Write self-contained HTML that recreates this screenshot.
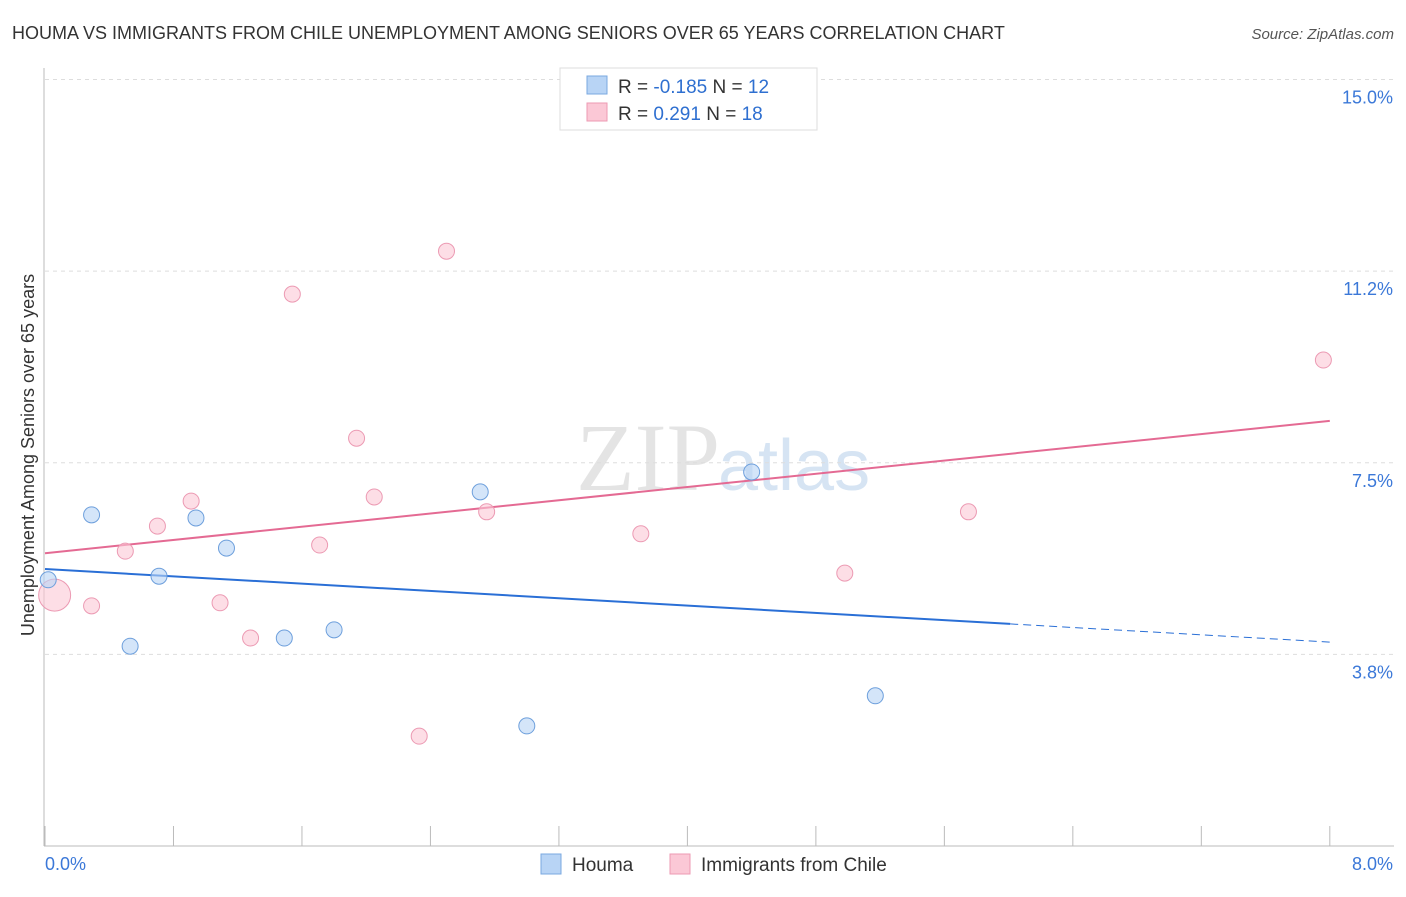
<!DOCTYPE html>
<html><head><meta charset="utf-8"><style>
body{margin:0;background:#fff;font-family:"Liberation Sans",sans-serif}
</style></head><body>
<svg id="c" width="1406" height="892" xmlns="http://www.w3.org/2000/svg">
<text x="12" y="39" font-size="18" fill="#333">HOUMA VS IMMIGRANTS FROM CHILE UNEMPLOYMENT AMONG SENIORS OVER 65 YEARS CORRELATION CHART</text>
<text x="1394" y="39" font-size="15" fill="#555" font-style="italic" text-anchor="end">Source: ZipAtlas.com</text>
<text x="720" y="490" font-size="96" fill="#e4e4e4" font-family="Liberation Serif,serif" text-anchor="end">ZIP</text>
<text x="718" y="490" font-size="72" fill="#d6e4f3">atlas</text>
<text transform="translate(34,455) rotate(-90)" font-size="18" fill="#333" text-anchor="middle">Unemployment Among Seniors over 65 years</text>
<g id="grid"></g><g id="lines"></g><g id="pts"></g>
<g>
<rect x="560" y="68" width="257" height="62" fill="#fff" stroke="#ddd"/>
<rect x="587" y="76" width="20" height="18" fill="#b8d4f5" stroke="#7aa8e0"/>
<rect x="587" y="103" width="20" height="18" fill="#fbc8d6" stroke="#ec9ab3"/>
<text x="618" y="93" font-size="19" fill="#333">R = <tspan fill="#2e6fd0">-0.185</tspan>   N = <tspan fill="#2e6fd0">12</tspan></text>
<text x="618" y="120" font-size="19" fill="#333">R =   <tspan fill="#2e6fd0">0.291</tspan>   N = <tspan fill="#2e6fd0">18</tspan></text>
</g>
<g>
<rect x="541" y="854" width="20" height="20" fill="#b8d4f5" stroke="#7aa8e0"/>
<text x="572" y="871" font-size="19" fill="#333">Houma</text>
<rect x="670" y="854" width="20" height="20" fill="#fbc8d6" stroke="#ec9ab3"/>
<text x="701" y="871" font-size="19" fill="#333">Immigrants from Chile</text>
</g>
</svg>
<script>
const yTicks=[3.75,7.5,11.25,15];
const yTickLabels=["3.8%","7.5%","11.2%","15.0%"];
const xTicks=[0,0.8,1.6,2.4,3.2,4,4.8,5.6,6.4,7.2,8];
const houmaX=[0.02,0.29,0.53,0.71,0.94,1.13,1.49,1.80,2.71,3.00,4.40,5.17];
const houmaY=[5.21,6.48,3.91,5.28,6.42,5.83,4.07,4.23,6.93,2.35,7.32,2.94];
const chileX=[0.06,0.29,0.50,0.70,0.91,1.09,1.28,1.54,1.71,1.94,2.05,2.33,2.50,2.75,3.71,4.98,5.75,7.96];
const chileY=[4.91,4.70,5.77,6.26,6.75,4.76,4.07,10.80,5.89,7.98,6.83,2.15,11.64,6.54,6.11,5.34,6.54,9.51];
const houmaTrend=[5.42,3.99];
const chileTrend=[5.73,8.32];
const houmaSolidEnd=6.01;
const X=v=>45+v*160.6, Y=v=>846-v*51.1;
const NS="http://www.w3.org/2000/svg";
function mk(p,t,a){const e=document.createElementNS(NS,t);for(const k in a)e.setAttribute(k,a[k]);document.getElementById(p).appendChild(e);return e;}
let e;
yTicks.forEach((t,i)=>{
 e=mk("grid","line",{x1:45,x2:1394,y1:Y(t),y2:Y(t),stroke:"#ddd","stroke-dasharray":"4,4"});
 
 
 e=mk("grid","text",{x:1393,y:Y(t)+24,"font-size":18,fill:"#3b78d8","text-anchor":"end"});e.textContent=yTickLabels[i];
 
 
});
e=mk("grid","line",{x1:45,x2:1394,y1:Y(15),y2:Y(15),stroke:"#ddd","stroke-dasharray":"4,4"});


e=mk("grid","line",{x1:44,x2:44,y1:68,y2:846,stroke:"#bbb"});


e=mk("grid","line",{x1:44,x2:1394,y1:846,y2:846,stroke:"#bbb"});


xTicks.forEach(t=>{
 e=mk("grid","line",{x1:X(t),x2:X(t),y1:826,y2:846,stroke:"#bbb"});
 
 
});
e=mk("grid","text",{x:45,y:870,"font-size":18,fill:"#3b78d8"});e.textContent="0.0%";


e=mk("grid","text",{x:1393,y:870,"font-size":18,fill:"#3b78d8","text-anchor":"end"});e.textContent="8.0%";


const hb=v=>houmaTrend[0]+(houmaTrend[1]-houmaTrend[0])*v/8;
e=mk("lines","line",{x1:X(0),y1:Y(hb(0)),x2:X(houmaSolidEnd),y2:Y(hb(houmaSolidEnd)),stroke:"#2a6fd6","stroke-width":2});


e=mk("lines","line",{x1:X(houmaSolidEnd),y1:Y(hb(houmaSolidEnd)),x2:X(8),y2:Y(hb(8)),stroke:"#2a6fd6","stroke-width":1,"stroke-dasharray":"8,5"});


e=mk("lines","line",{x1:X(0),y1:Y(chileTrend[0]),x2:X(8),y2:Y(chileTrend[1]),stroke:"#e46a93","stroke-width":2});


chileX.forEach((x,i)=>{
 e=mk("pts","circle",{cx:X(x),cy:Y(chileY[i]),r:i==0?16:8,fill:"#fbc8d6","fill-opacity":0.6,stroke:"#ec9ab3"});
 
 
});
houmaX.forEach((x,i)=>{
 e=mk("pts","circle",{cx:X(x),cy:Y(houmaY[i]),r:8,fill:"#b8d4f5","fill-opacity":0.6,stroke:"#6d9fdc"});
 
 
});
</script>
</body></html>
